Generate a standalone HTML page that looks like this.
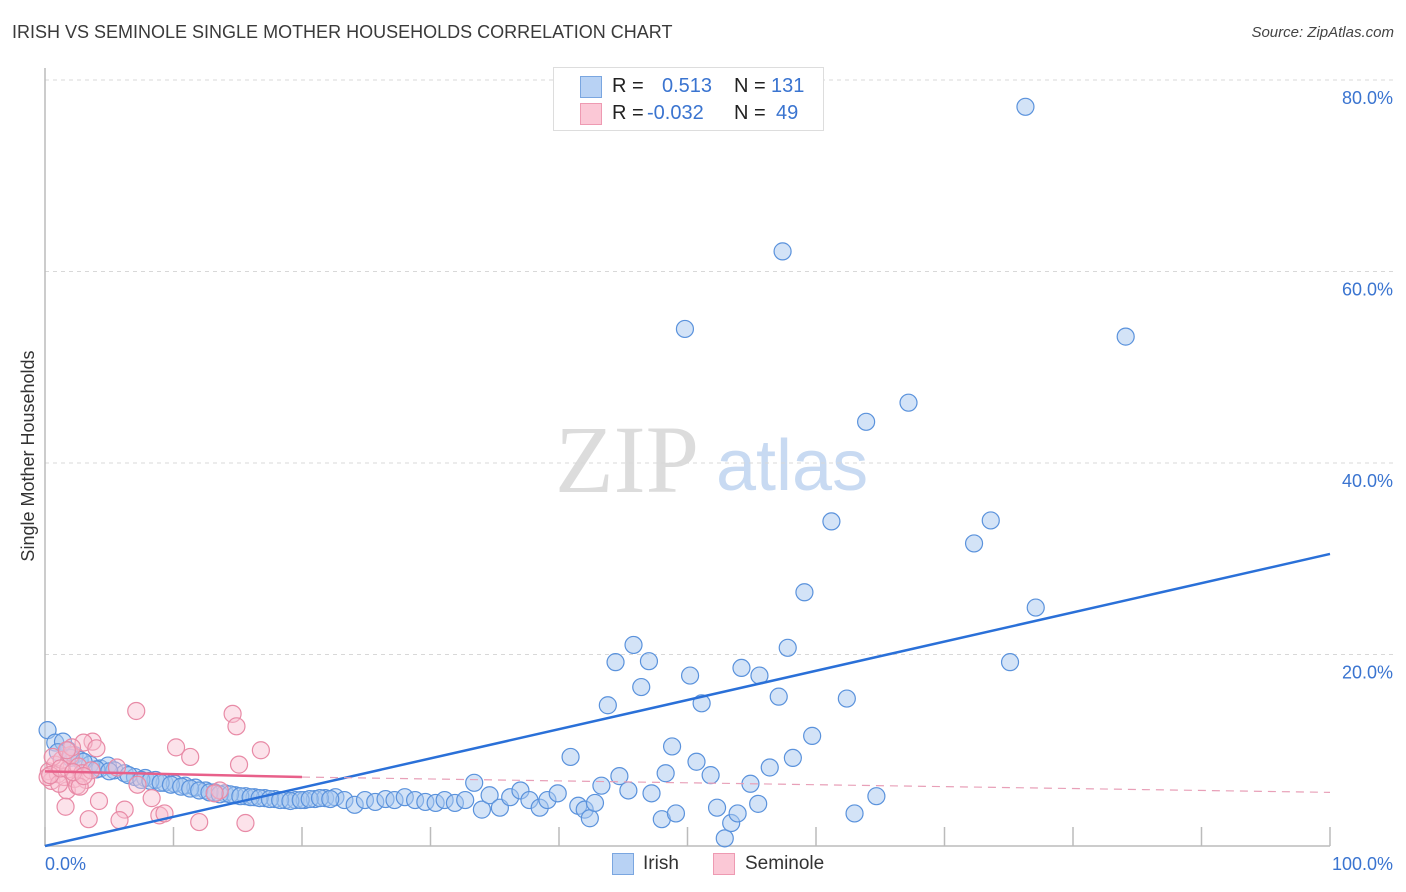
<!DOCTYPE html>
<html><head><meta charset="utf-8">
<style>
html,body{margin:0;padding:0;background:#fff;}
body{width:1406px;height:892px;overflow:hidden;font-family:"Liberation Sans",sans-serif;position:relative;}
.t{position:absolute;white-space:nowrap;}
</style></head>
<body>
<div class="t" style="left:12px;top:22px;font-size:18px;color:#3a3a3a;">IRISH VS SEMINOLE SINGLE MOTHER HOUSEHOLDS CORRELATION CHART</div>
<div class="t" style="right:12px;top:24px;font-size:15px;font-style:italic;color:#444;">Source: ZipAtlas.com</div>
<svg id="chart" width="1406" height="892" style="position:absolute;left:0;top:0">
  <text x="555" y="492" font-family="Liberation Serif,serif" font-size="96" fill="#dcdcdc">ZIP</text>
  <text x="716" y="490" font-family="Liberation Sans,sans-serif" font-size="72" fill="#c8daf2">atlas</text>
  <g id="grid"></g>
  <g id="axes"></g>
  <g id="pts"></g>
  <g id="trend"></g>
  <text transform="translate(34,456) rotate(-90)" text-anchor="middle" font-size="18" fill="#333">Single Mother Households</text>
</svg>
<div style="position:absolute;left:553px;top:67px;width:269px;height:62px;border:1px solid #ddd;background:#fff;">
  <div style="position:absolute;left:26px;top:8px;width:20px;height:20px;background:#b8d2f4;border:1px solid #7aa6e0;"></div>
  <div class="t" style="left:58px;top:7px;font-size:20px;color:#222;">R =</div>
  <div class="t" style="left:108px;top:7px;font-size:20px;color:#3a74d0;">0.513</div>
  <div class="t" style="left:180px;top:7px;font-size:20px;color:#222;">N =</div>
  <div class="t" style="left:217px;top:7px;font-size:20px;color:#3a74d0;">131</div>
  <div style="position:absolute;left:26px;top:35px;width:20px;height:20px;background:#fbc8d6;border:1px solid #ee9ab2;"></div>
  <div class="t" style="left:58px;top:34px;font-size:20px;color:#222;">R =</div>
  <div class="t" style="left:93px;top:34px;font-size:20px;color:#3a74d0;">-0.032</div>
  <div class="t" style="left:180px;top:34px;font-size:20px;color:#222;">N =</div>
  <div class="t" style="left:222px;top:34px;font-size:20px;color:#3a74d0;">49</div>
</div>
<div style="position:absolute;left:612px;top:853px;">
  <div style="position:absolute;left:0;top:0;width:20px;height:20px;background:#b8d2f4;border:1px solid #7aa6e0;"></div>
  <div class="t" style="left:31px;top:0;font-size:19px;color:#333;">Irish</div>
</div>
<div style="position:absolute;left:713px;top:853px;">
  <div style="position:absolute;left:0;top:0;width:20px;height:20px;background:#fbc8d6;border:1px solid #ee9ab2;"></div>
  <div class="t" style="left:32px;top:0;font-size:19px;color:#333;">Seminole</div>
</div>
<script>
const yTicks=[20,40,60,80];
const yTickLabels=["20.0%","40.0%","60.0%","80.0%"];
const xTicks=[0,10,20,30,40,50,60,70,80,90,100];
const irishX=[0.2,0.8,1.4,1.8,2.3,2.7,3.5,4.3,4.9,5.4,6.2,7.0,7.8,8.6,9.3,10.1,10.9,11.7,12.5,13.2,14.0,14.8,15.6,16.3,17.1,17.9,18.7,19.5,20.2,21.0,21.8,22.6,23.3,24.1,24.9,25.7,26.5,27.2,28.0,28.8,29.6,30.4,31.1,31.9,32.7,33.4,34.0,34.6,35.4,36.2,37.0,37.7,38.5,39.1,39.9,40.9,41.5,42.0,42.4,42.8,43.3,43.8,44.4,44.7,45.4,45.8,46.4,47.0,47.2,48.0,48.3,48.8,49.1,50.2,50.7,51.1,51.8,52.3,52.9,53.4,53.9,54.2,54.9,55.5,55.6,56.4,57.1,57.4,57.8,58.2,59.1,59.7,61.2,62.4,63.0,63.9,64.7,49.8,67.2,72.3,73.6,75.1,76.3,77.1,84.1,1.0,2.0,3.0,4.0,5.0,6.5,7.5,8.2,9.0,9.8,10.6,11.3,12.0,12.8,13.6,14.4,15.2,16.0,16.7,17.5,18.3,19.1,19.9,20.6,21.4,22.2];
const irishY=[12.1,10.8,10.9,10.0,9.5,9.0,8.5,8.1,8.4,7.9,7.6,7.2,7.1,6.9,6.6,6.5,6.3,6.1,5.8,5.6,5.5,5.3,5.2,5.1,5.0,4.9,4.8,4.8,4.8,4.9,5.0,5.1,4.8,4.3,4.8,4.6,4.9,4.8,5.1,4.8,4.6,4.5,4.8,4.5,4.8,6.6,3.8,5.3,4.0,5.1,5.8,4.8,4.0,4.8,5.5,9.3,4.2,3.8,2.9,4.5,6.3,14.7,19.2,7.3,5.8,21.0,16.6,19.3,5.5,2.8,7.6,10.4,3.4,17.8,8.8,14.9,7.4,4.0,0.8,2.4,3.4,18.6,6.5,4.4,17.8,8.2,15.6,62.1,20.7,9.2,26.5,11.5,33.9,15.4,3.4,44.3,5.2,54.0,46.3,31.6,34.0,19.2,77.2,24.9,53.2,9.8,9.2,8.8,8.0,7.8,7.4,6.9,6.8,6.6,6.4,6.2,6.0,5.8,5.6,5.4,5.4,5.2,5.1,5.0,4.9,4.8,4.7,4.8,4.9,5.0,4.9];
const semX=[7.1,14.6,14.9,10.2,11.3,16.8,15.1,3.7,3.0,4.0,1.7,1.6,4.2,3.4,6.2,5.8,8.3,8.9,9.3,12.0,15.6,13.6,13.2,7.2,5.6,0.3,0.5,0.8,1.0,1.3,1.5,1.8,2.0,2.3,2.6,2.9,3.2,0.2,1.1,2.5,0.6,3.6,2.1,1.7,2.7,0.4,1.2,2.2,3.0];
const semY=[14.1,13.8,12.5,10.3,9.3,10.0,8.5,10.9,10.8,10.2,5.8,4.1,4.7,2.8,3.8,2.7,5.0,3.2,3.4,2.5,2.4,5.8,5.5,6.4,8.2,7.8,6.8,8.5,7.5,9.0,7.2,8.0,9.5,7.0,8.3,7.6,6.9,7.2,6.5,6.3,9.3,7.9,10.3,10.0,6.2,7.4,8.1,7.7,7.3];
const irishTrend=[0,0.0,100,30.5];
const semTrend=[0,7.8,20,7.2,100,5.6];

const X0=45,X1=1330,Y0=846,Y80=80;
const sx=v=>X0+(X1-X0)*v/100;
const sy=v=>Y0-(Y0-Y80)*v/80;
const NS="http://www.w3.org/2000/svg";
function mk(tag,attrs,parent){const e=document.createElementNS(NS,tag);for(const k in attrs)e.setAttribute(k,attrs[k]);document.getElementById(parent).appendChild(e);return e;}

yTicks.forEach((v,i)=>{
  const l=mk('line',{x1:X0,x2:1395,y1:sy(v),y2:sy(v),stroke:'#d8d8d8','stroke-dasharray':'4,4','stroke-width':1},'grid');
  
  
  const t=mk('text',{x:1393,y:sy(v)+24,'text-anchor':'end','font-size':18,fill:'#3a74d0'},'grid');
  t.textContent=yTickLabels[i];
  
  
});
const ax=mk('line',{x1:X0,x2:X0,y1:68,y2:Y0,stroke:'#bbb','stroke-width':1.5},'axes');


const bx=mk('line',{x1:X0,x2:X1,y1:Y0,y2:Y0,stroke:'#bbb','stroke-width':1.5},'axes');


xTicks.forEach(v=>{
  const l=mk('line',{x1:sx(v),x2:sx(v),y1:Y0,y2:Y0-19,stroke:'#bbb','stroke-width':1.5},'axes');
  
  
});
const xl0=mk('text',{x:X0,y:870,'font-size':18,fill:'#3a74d0'},'axes');xl0.textContent='0.0%';


const xl1=mk('text',{x:1393,y:870,'text-anchor':'end','font-size':18,fill:'#3a74d0'},'axes');xl1.textContent='100.0%';



irishX.forEach((x,i)=>{
  const c=mk('circle',{cx:sx(x),cy:sy(irishY[i]),r:8.5,fill:'rgba(168,200,240,0.5)',stroke:'#5a92dc','stroke-width':1.2},'pts');
  
  
});
semX.forEach((x,i)=>{
  const c=mk('circle',{cx:sx(x),cy:sy(semY[i]),r:8.5,fill:'rgba(248,190,208,0.45)',stroke:'#e88aa6','stroke-width':1.2},'pts');
  
  
});
const it=mk('line',{x1:sx(irishTrend[0]),y1:sy(irishTrend[1]),x2:sx(irishTrend[2]),y2:sy(irishTrend[3]),stroke:'#2a70d8','stroke-width':2.5},'trend');


const st=mk('line',{x1:sx(semTrend[0]),y1:sy(semTrend[1]),x2:sx(semTrend[2]),y2:sy(semTrend[3]),stroke:'#e8608a','stroke-width':2.5},'trend');


const sd=mk('line',{x1:sx(semTrend[2]),y1:sy(semTrend[3]),x2:sx(semTrend[4]),y2:sy(semTrend[5]),stroke:'#e8a0b8','stroke-width':1.2,'stroke-dasharray':'8,6'},'trend');


</script>
</body></html>
